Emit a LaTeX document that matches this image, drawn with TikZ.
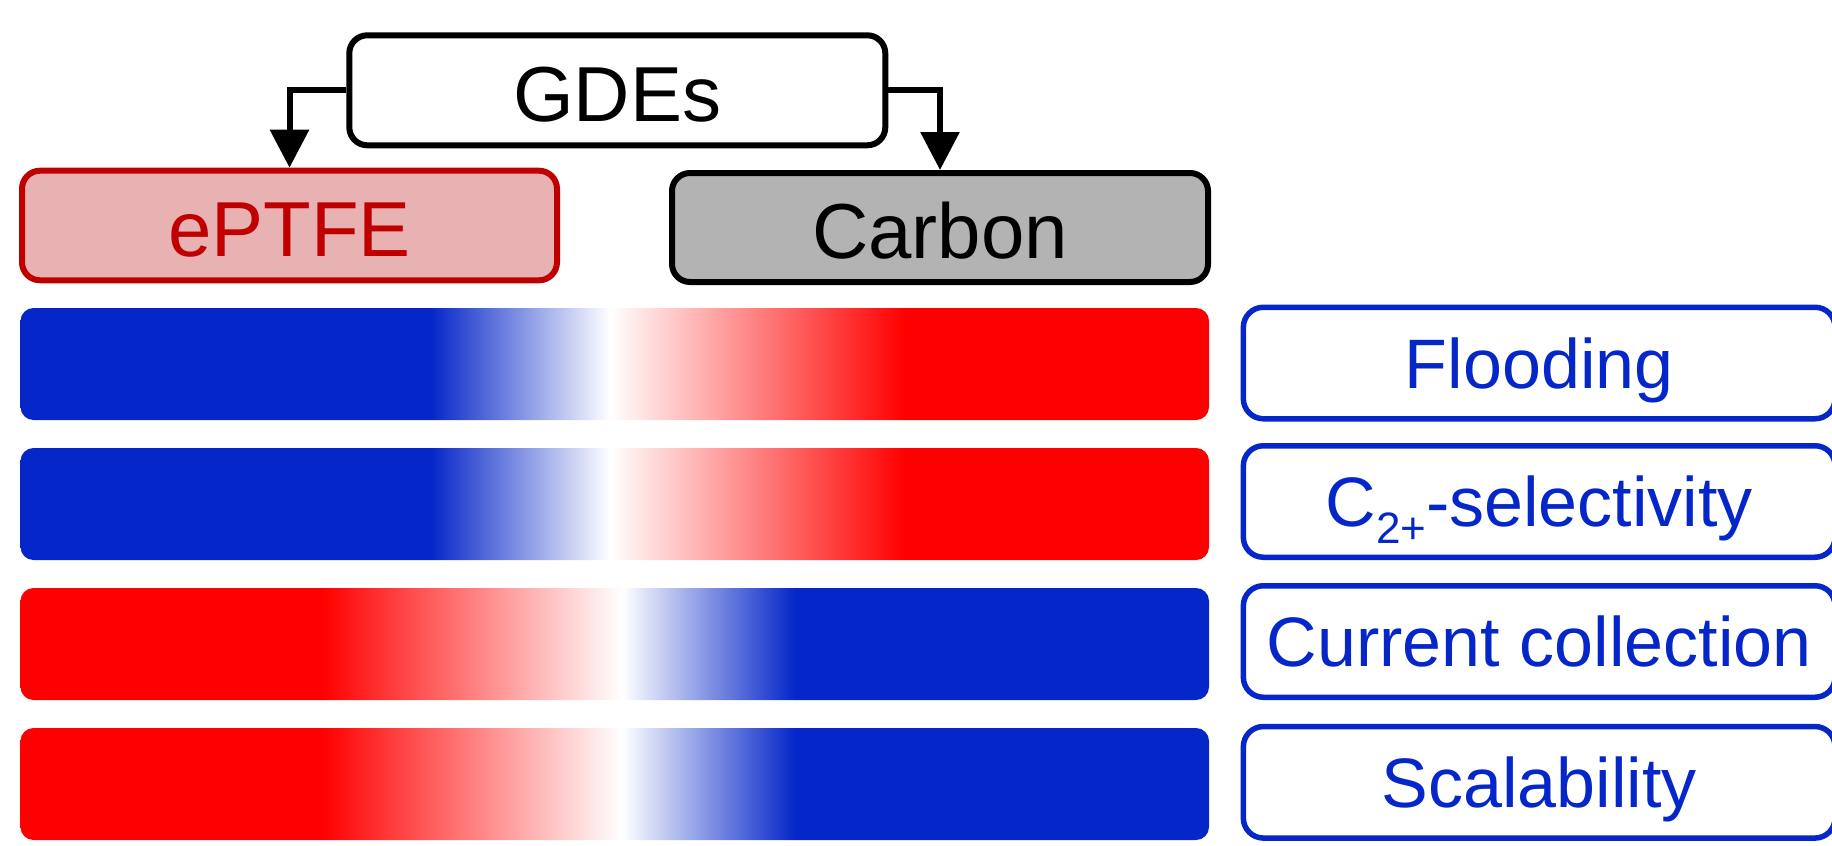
\documentclass[tikz,border=0pt]{standalone}
\usepackage{fontspec}
\setmainfont{Liberation Sans}
\usetikzlibrary{arrows.meta}
\definecolor{cblue}{RGB}{5,38,200}
\definecolor{cred}{RGB}{255,0,0}
\definecolor{dred}{RGB}{192,0,0}
\definecolor{pinkfill}{RGB}{233,178,178}
\definecolor{grayfill}{RGB}{179,179,179}
\pgfdeclarehorizontalshading{bluered}{100bp}{color(0bp)=(cblue); color(42.23bp)=(cblue); color(49.8bp)=(white); color(62.2bp)=(cred); color(100bp)=(cred)}
\pgfdeclarehorizontalshading{redblue}{100bp}{color(0bp)=(cred); color(37.7bp)=(cred); color(50.3bp)=(white); color(57.6bp)=(cblue); color(100bp)=(cblue)}
\begin{document}
\begin{tikzpicture}[x=1pt,y=-1pt,
  topbox/.style={draw, line width=6pt, rounded corners=18pt, minimum width=536pt, minimum height=110pt,
    inner sep=0pt, font=\fontsize{78}{78}\selectfont, text height=62pt, text depth=0pt},
  barbox/.style={shade, draw=none, rounded corners=13pt, minimum width=1188.5pt, minimum height=112pt, inner sep=0pt},
  labbox/.style={draw=cblue, text=cblue, fill=white, line width=5.5pt, rounded corners=20pt, minimum width=591.7pt,
    minimum height=111.5pt, inner sep=0pt, font=\fontsize{70}{70}\selectfont, text height=50pt, text depth=0pt},
  conn/.style={line width=6pt, -{Triangle[length=38pt,width=38pt]}}]
\useasboundingbox (0,0) rectangle (1832,846);
\clip (0,0) rectangle (1832,846);
% top boxes
\node[topbox, fill=white] (gdes) at (617.3,90.3) {GDEs};
\node[topbox, draw=dred, fill=pinkfill, text=dred, minimum width=535pt, minimum height=109.6pt] (eptfe) at (289.5,225.5) {ePTFE};
\node[topbox, fill=grayfill, minimum height=109pt] (carbon) at (940,227.5) {Carbon};
\draw[conn] (gdes.west) -| (eptfe.north);
\draw[conn] (gdes.east) -| (carbon.north);
% bars
\node[barbox, shading=bluered] (bar1) at (614.75,364) {};
\node[barbox, shading=bluered] (bar2) at (614.75,504) {};
\node[barbox, shading=redblue] (bar3) at (614.75,644) {};
\node[barbox, shading=redblue] (bar4) at (614.75,784) {};
% labels
\node[labbox] (lab1) at (1539.2,363) {Flooding};
\node[labbox] (lab2) at (1539.2,501.5) {C\raisebox{-17pt}{\fontsize{44}{44}\selectfont 2+}-selectivity};
\node[labbox] (lab3) at (1539.2,641.5) {Current collection};
\node[labbox] (lab4) at (1539.2,782.3) {Scalability};
\end{tikzpicture}
\end{document}
